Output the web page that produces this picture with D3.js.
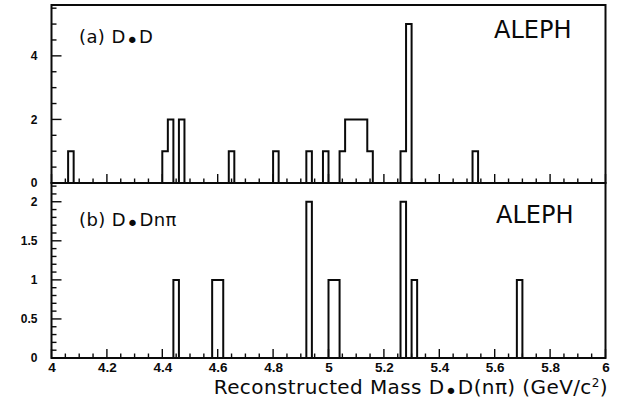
<!DOCTYPE html>
<html><head><meta charset="utf-8">
<script src="https://cdn.jsdelivr.net/npm/d3@7"></script>
<style>
html,body{margin:0;padding:0;background:#fff;}
svg{display:block;}
</style></head>
<body>
<svg id="chart" width="636" height="405"></svg>
<script>
// ---- data (bin low edges, bin width 0.02 GeV) ----
const binWidth = 0.02;
const binsA   = [4.06, 4.40, 4.42, 4.46, 4.64, 4.80, 4.92, 4.98, 5.04, 5.06, 5.08, 5.10, 5.12, 5.14, 5.26, 5.28, 5.52];
const countsA = [1,    1,    2,    2,    1,    1,    1,    1,    1,    2,    2,    2,    2,    1,    1,    5,    1];
const binsB   = [4.44, 4.58, 4.60, 4.92, 5.00, 5.02, 5.26, 5.30, 5.68];
const countsB = [1,    1,    1,    2,    1,    1,    2,    1,    1];
const xTickLabels = ["4","4.2","4.4","4.6","4.8","5","5.2","5.4","5.6","5.8","6"];
const yTicksA = [0, 2, 4];
const yTicksB = [0, 0.5, 1, 1.5, 2];
const panelLabels = ["(a) D", "(b) D"];
const xTitle = "Reconstructed Mass";

const svg = d3.select("#chart");
const x = d3.scaleLinear().domain([4, 6]).range([51.5, 605.5]);
const yA = d3.scaleLinear().domain([0, 5.6]).range([183, 5]);
const yB = d3.scaleLinear().domain([0, 2.24]).range([358, 183]);

const ink = "#0a0a0a";

function histPath(bins, counts, y) {
  const p = d3.path();
  let lastX = 4;
  p.moveTo(x(4), y(0));
  let h = 0;
  for (let i = 0; i < bins.length; i++) {
    const x0 = bins[i], x1 = +(bins[i] + binWidth).toFixed(4);
    if (x0 > lastX + 1e-6) {
      if (h !== 0) { p.lineTo(x(lastX), y(0)); h = 0; }
      p.lineTo(x(x0), y(0));
    }
    p.lineTo(x(x0), y(counts[i]));
    p.lineTo(x(x1), y(counts[i]));
    h = counts[i];
    lastX = x1;
  }
  p.lineTo(x(lastX), y(0));
  p.lineTo(x(6), y(0));
  return p.toString();
}

function panel(y, bins, counts, yTicks, minorStep, majorTickVals, top, bottom) {
  const g = svg.append("g");
  g.append("path").attr("d", histPath(bins, counts, y))
    .attr("fill", "none").attr("stroke", ink).attr("stroke-width", 2)
    .attr("stroke-linejoin", "miter");
  g.append("rect").attr("x", x(4)).attr("y", top)
    .attr("width", x(6) - x(4)).attr("height", bottom - top)
    .attr("fill", "none").attr("stroke", ink).attr("stroke-width", 2);
  const xMinor = d3.range(0, 41).map(i => 4 + i * 0.05);
  const xg = g.append("g").attr("transform", `translate(0,${bottom})`);
  xMinor.forEach((v, i) => {
    const major = i % 4 === 0;
    xg.append("line").attr("x1", x(v)).attr("x2", x(v))
      .attr("y1", 0).attr("y2", major ? -9 : -4.5)
      .attr("stroke", ink).attr("stroke-width", 1.4);
  });
  const yMax = y.domain()[1];
  const nMinor = Math.floor(yMax / minorStep + 1e-6);
  for (let i = 0; i <= nMinor; i++) {
    const v = i * minorStep;
    const major = majorTickVals.some(m => Math.abs(m - v) < 1e-6);
    g.append("line").attr("x1", x(4)).attr("x2", x(4) + (major ? 10 : 5))
      .attr("y1", y(v)).attr("y2", y(v))
      .attr("stroke", ink).attr("stroke-width", 1.4);
  }
  const ya = d3.axisLeft(y).tickValues(yTicks).tickSize(0).tickPadding(14)
    .tickFormat(d => String(d));
  const yg = g.append("g").attr("transform", `translate(${x(4)},0)`).call(ya);
  yg.select(".domain").remove();
  yg.selectAll("text").attr("font-family", "Liberation Sans, Arial, sans-serif")
    .attr("font-weight", "bold").attr("font-size", 12).attr("fill", ink);
  return g;
}

panel(yA, binsA, countsA, yTicksA, 0.5, yTicksA, 5, 183);
panel(yB, binsB, countsB, yTicksB, 0.1, yTicksB, 183, 358);

const xl = d3.axisBottom(x).tickValues(d3.range(0, 11).map(i => 4 + i * 0.2))
  .tickSize(0).tickPadding(4).tickFormat((d, i) => xTickLabels[i]);
const xlg = svg.append("g").attr("transform", "translate(0,358)").call(xl);
xlg.select(".domain").remove();
xlg.selectAll("text").attr("font-family", "Liberation Sans, Arial, sans-serif")
  .attr("font-weight", "bold").attr("font-size", 13.5).attr("fill", ink);

const font = "DejaVu Sans, Verdana, sans-serif";
function label(xp, yp, pre, post) {
  const t = svg.append("text").attr("x", xp).attr("y", yp)
    .attr("font-family", font).attr("font-size", 18).attr("fill", ink)
    .attr("letter-spacing", 0.4);
  t.append("tspan").text(pre);
  t.append("tspan").attr("dy", 5).attr("font-size", 22).text("\u2022");
  t.append("tspan").attr("dy", -5).attr("font-size", 18).text(post);
  return t;
}
label(79, 43, panelLabels[0], "D");
label(79, 226, panelLabels[1], "Dn\u03C0");

svg.append("text").attr("x", 494).attr("y", 38).attr("font-family", font)
  .attr("font-size", 24).attr("fill", ink).text("ALEPH");
svg.append("text").attr("x", 496).attr("y", 223).attr("font-family", font)
  .attr("font-size", 24).attr("fill", ink).text("ALEPH");

const tt = svg.append("text").attr("x", 608).attr("y", 394).attr("text-anchor", "end")
  .attr("font-family", font).attr("font-size", 20).attr("fill", ink)
  .attr("letter-spacing", 0.4);
tt.append("tspan").text(xTitle + " D");
tt.append("tspan").attr("dy", 5).attr("font-size", 22).text("\u2022");
tt.append("tspan").attr("dy", -5).attr("font-size", 20).text("D(n\u03C0) (GeV/c");
tt.append("tspan").attr("dy", -7).attr("font-size", 12).text("2");
tt.append("tspan").attr("dy", 7).attr("font-size", 20).text(")");
</script>
</body></html>
